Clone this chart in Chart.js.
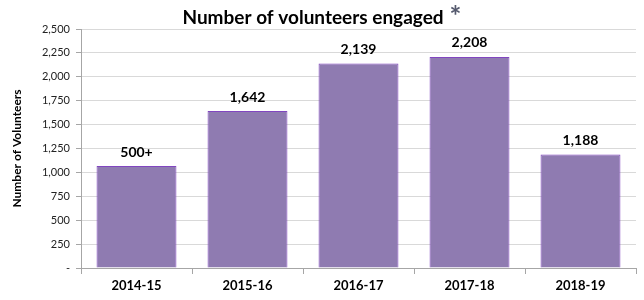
<!DOCTYPE html>
<html lang="en">
<head>
    <meta charset="UTF-8">
    <title>Number of volunteers engaged</title>
    <script src="https://cdn.jsdelivr.net/npm/chart.js"></script>
    <style>
        body { margin: 0; background: #fff; }
        #wrap { width: 644px; height: 300px; position: relative; }
    </style>
</head>
<body>
    <div id="wrap"><canvas id="volChart"></canvas></div>
    <script>
        const years = ['2014-15', '2015-16', '2016-17', '2017-18', '2018-19'];
        const volunteers = [1067, 1642, 2139, 2208, 1188];
        const barLabels = ['500+', '1,642', '2,139', '2,208', '1,188'];

        const FONT = 'Lato, "Open Sans", sans-serif';

        // labels on top of bars + title with the asterisk
        const extras = {
            id: 'extras',
            afterDatasetsDraw(chart) {
                const ctx = chart.ctx;
                const meta = chart.getDatasetMeta(0);
                ctx.save();
                ctx.fillStyle = '#000';
                ctx.font = 'bold 14px ' + FONT;
                ctx.textAlign = 'center';
                ctx.textBaseline = 'bottom';
                meta.data.forEach((bar, i) => {
                    ctx.fillText(barLabels[i], bar.x, bar.y - 7);
                });

                ctx.font = 'bold 19px ' + FONT;
                ctx.textBaseline = 'alphabetic';
                ctx.fillText('Number of volunteers engaged', 313, 24);
                const w = ctx.measureText('Number of volunteers engaged').width;
                ctx.fillStyle = '#555a6e';
                ctx.font = 'bold 28px ' + FONT;
                ctx.textAlign = 'left';
                ctx.fillText('*', 313 + w / 2 + 6, 26);
                ctx.restore();
            }
        };

        new Chart(document.getElementById('volChart'), {
            type: 'bar',
            data: {
                labels: years,
                datasets: [{
                    data: volunteers,
                    backgroundColor: '#8f7bb1',
                    borderColor: '#8146c0',
                    borderWidth: 1,
                    barPercentage: 0.72,
                    categoryPercentage: 1
                }]
            },
            options: {
                responsive: true,
                maintainAspectRatio: false,
                animation: false,
                layout: { padding: { top: 29, right: 8, left: 6, bottom: 0 } },
                plugins: {
                    legend: { display: false },
                    tooltip: { enabled: false }
                },
                scales: {
                    x: {
                        grid: {
                            drawOnChartArea: false,
                            tickLength: 6,
                            tickColor: '#a6a6a6'
                        },
                        border: { color: '#a6a6a6' },
                        ticks: {
                            color: '#000',
                            font: { family: FONT, size: 13, weight: 'bold' },
                            padding: 4
                        },
                        afterFit(scale) { scale.height = 32; }
                    },
                    y: {
                        min: 0,
                        max: 2500,
                        ticks: {
                            stepSize: 250,
                            color: '#222',
                            font: { family: FONT, size: 11 },
                            padding: 6,
                            callback: v => v === 0 ? '-' : v.toLocaleString('en-US')
                        },
                        grid: {
                            color: '#d9d9d9',
                            tickLength: 5,
                            tickColor: '#a6a6a6'
                        },
                        border: { color: '#a6a6a6' },
                        title: {
                            display: true,
                            text: 'Number of Volunteers',
                            color: '#000',
                            font: { family: FONT, size: 12, weight: 'bold' },
                            padding: { top: 4, bottom: 2 }
                        },
                        afterFit(scale) { scale.width = 75; }
                    }
                }
            },
            plugins: [extras]
        });
    </script>
</body>
</html>
